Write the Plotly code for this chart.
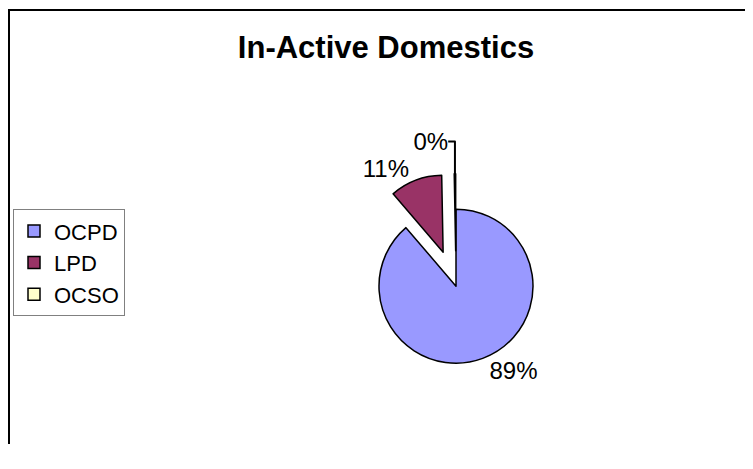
import plotly.graph_objects as go

labels = ["OCPD", "LPD", "OCSO"]
values = [89, 11, 0.3]
pct_text = ["89%", "11%", "0%"]
colors = ["#9999FF", "#993366", "#FFFFCC"]
pulls = [0, 0.47, 0.46]

# the page body adds an 8px margin, so the figure is a bit smaller
# and every position below is given in figure pixels (reference - 8)
W, H = 745, 453
cx, cy, r = 448, 289, 80
half = r * (1 + max(pulls))

fig = go.Figure(go.Pie(
    labels=labels,
    values=values,
    text=pct_text,
    textinfo="text",
    textposition="outside",
    sort=False,
    direction="clockwise",
    rotation=0,
    pull=pulls,
    marker=dict(colors=colors, line=dict(color="black", width=1.5)),
    textfont=dict(family="Liberation Sans, Arial", size=24, color="black"),
    domain=dict(
        x=[(cx - half) / W, (cx + half) / W],
        y=[(H - cy - half) / H, (H - cy + half) / H],
    ),
    hoverinfo="label+percent",
))

# chart-area border: only its top and left edges fall inside the view
border = dict(color="black", width=2)
top_y = 1 - 2 / H
left_x = 1 / W

fig.update_layout(
    width=W,
    height=H,
    margin=dict(l=0, r=0, t=0, b=0),
    paper_bgcolor="white",
    font=dict(family="Liberation Sans, Arial", color="black"),
    title=dict(
        text="<b>In-Active Domestics</b>",
        font=dict(size=31, color="black"),
        x=378 / W,
        xanchor="center",
        y=1 - 39 / H,
        yanchor="middle",
    ),
    legend=dict(
        x=5 / W,
        y=1 - 209 / H,
        xanchor="left",
        yanchor="top",
        bordercolor="#808080",
        borderwidth=1,
        font=dict(size=22, color="black"),
        bgcolor="white",
    ),
    shapes=[
        dict(type="line", xref="paper", yref="paper",
             x0=left_x - 1 / W, x1=1.0, y0=top_y, y1=top_y, line=border),
        dict(type="line", xref="paper", yref="paper",
             x0=left_x, x1=left_x, y0=0, y1=top_y + 1 / H, line=border),
    ],
    showlegend=True,
)

fig.write_html("out.html")
